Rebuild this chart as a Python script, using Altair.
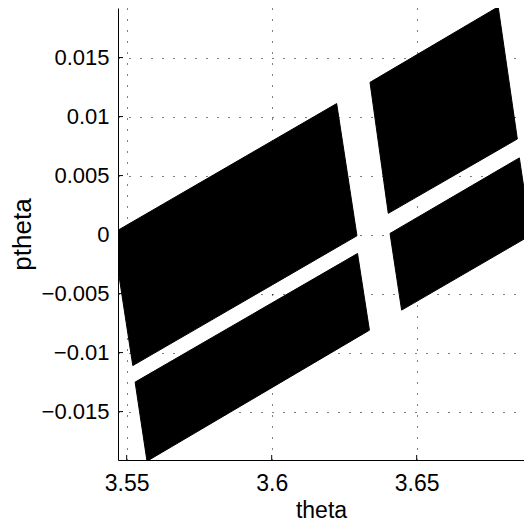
import altair as alt
import pandas as pd

# Corner points of the four filled regions in the (theta, ptheta) plane,
# listed in drawing order around each outline.
region_names = ["A", "B", "C", "D"]
theta_A = [3.5451, 3.6224, 3.6294, 3.5521]
ptheta_A = [0.0001, 0.0111, -0.0001, -0.0111]
theta_B = [3.6339, 3.6781, 3.6847, 3.6402]
ptheta_B = [0.0129, 0.0193, 0.0081, 0.0018]
theta_C = [3.5529, 3.6296, 3.6337, 3.5570]
ptheta_C = [-0.0125, -0.0016, -0.0081, -0.0192]
theta_D = [3.6408, 3.6854, 3.6894, 3.6448]
ptheta_D = [0.0001, 0.0065, -0.00004, -0.0064]

theta_ticks = [3.55, 3.6, 3.65]
ptheta_ticks = [-0.015, -0.01, -0.005, 0.0, 0.005, 0.01, 0.015]

theta_domain = [3.5470, 3.6870]
ptheta_domain = [-0.0191, 0.0192]

W, H = 406, 452

rows = []
for name, th, pt in [("A", theta_A, ptheta_A), ("B", theta_B, ptheta_B),
                     ("C", theta_C, ptheta_C), ("D", theta_D, ptheta_D)]:
    for i, (a, b) in enumerate(zip(th, pt)):
        rows.append({"region": name, "k": i, "theta": a, "ptheta": b})
    rows.append({"region": name, "k": len(th), "theta": th[0], "ptheta": pt[0]})
poly = pd.DataFrame(rows)

font = "Liberation Sans"

xscale = alt.Scale(domain=theta_domain, nice=False, zero=False)
yscale = alt.Scale(domain=ptheta_domain, nice=False, zero=False)

x_axis = alt.Axis(values=theta_ticks, format="~g", title="theta",
                  grid=True, ticks=False, labelPadding=12, titlePadding=4,
                  labelFontSize=23, titleFontSize=23)
y_axis = alt.Axis(values=ptheta_ticks, format="~g", title="ptheta",
                  grid=True, ticks=False, labelPadding=9, titlePadding=6,
                  labelFontSize=22, titleFontSize=26)

shapes = alt.Chart(poly).mark_line(
    fill="black", stroke="black", strokeWidth=1, clip=True, interpolate="linear"
).encode(
    x=alt.X("theta:Q", scale=xscale, axis=x_axis),
    y=alt.Y("ptheta:Q", scale=yscale, axis=y_axis),
    detail="region:N",
    order="k:Q",
)

xt = pd.DataFrame({"theta": theta_ticks})
yt = pd.DataFrame({"ptheta": ptheta_ticks})

x_ticks = alt.Chart(xt).mark_rule(color="black", strokeWidth=1).encode(
    x=alt.X("theta:Q", scale=xscale),
    y=alt.value(H), y2=alt.value(H - 5),
)
y_ticks = alt.Chart(yt).mark_rule(color="black", strokeWidth=1).encode(
    y=alt.Y("ptheta:Q", scale=yscale),
    x=alt.value(0), x2=alt.value(5),
)

chart = alt.layer(shapes, x_ticks, y_ticks).properties(
    width=W, height=H,
    autosize=alt.AutoSizeParams(type="none"),
    padding={"left": 118, "top": 8, "right": 0, "bottom": 64},
    background="white",
).configure_view(
    stroke=None
).configure_axis(
    domainColor="black", domainWidth=1,
    gridColor="black", gridDash=[1, 10], gridWidth=1, gridOpacity=1,
    labelFont=font, labelColor="black",
    titleFont=font, titleColor="black", titleFontWeight="normal",
)

chart.save("out.html", embed_options={"renderer": "svg", "actions": False})
